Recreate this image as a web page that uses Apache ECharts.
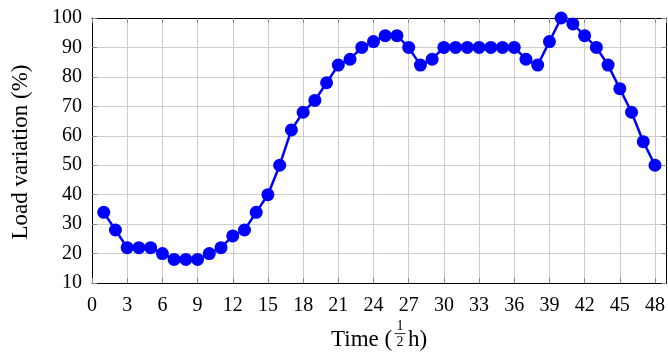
<!DOCTYPE html>
<html>
<head>
<meta charset="utf-8">
<script src="https://cdn.jsdelivr.net/npm/echarts@6/dist/echarts.min.js"></script>
<style>
  html, body { margin: 0; padding: 0; background: #fff; }
  #chart { width: 668px; height: 356px; }
</style>
</head>
<body>
<div id="chart"></div>
<script>
// half-hour slots 1..48
const slots = [];
for (let i = 1; i <= 48; i++) slots.push(i);

// load variation (%)
const loadValues = [
  34, 28, 22, 22, 22, 20, 18, 18, 18, 20, 22, 26,
  28, 34, 40, 50, 62, 68, 72, 78, 84, 86, 90, 92,
  94, 94, 90, 84, 86, 90, 90, 90, 90, 90, 90, 90,
  86, 84, 92, 100, 98, 94, 90, 84, 76, 68, 58, 50
];

const FONT = 'Liberation Serif';
const tickStyle = { show: true, inside: true, length: 5, lineStyle: { color: '#888', width: 1 } };
const borderLine = { show: true, onZero: false, lineStyle: { color: '#000', width: 1 } };

const chart = echarts.init(document.getElementById('chart'));

const option = {
  animation: false,
  grid: { left: 92, right: 0.5, top: 18, bottom: 73, containLabel: false },
  xAxis: [
    {
      type: 'value', min: 0, max: 49, interval: 3,
      axisLine: borderLine,
      axisTick: tickStyle,
      axisLabel: { showMaxLabel: false, margin: 13, fontFamily: FONT, fontSize: 20, color: '#000' },
      splitLine: { show: true, lineStyle: { color: '#cccccc', width: 1 } }
    },
    {
      type: 'value', position: 'top', min: 0, max: 49, interval: 3,
      axisLine: borderLine, axisTick: tickStyle,
      axisLabel: { show: false }, splitLine: { show: false }
    }
  ],
  yAxis: [
    {
      type: 'value', min: 10, max: 100, interval: 10,
      axisLine: borderLine,
      axisTick: tickStyle,
      axisLabel: { margin: 10, fontFamily: FONT, fontSize: 20, color: '#000' },
      splitLine: { show: true, lineStyle: { color: '#cccccc', width: 1 } }
    },
    {
      type: 'value', position: 'right', min: 10, max: 100, interval: 10,
      axisLine: borderLine, axisTick: tickStyle,
      axisLabel: { show: false }, splitLine: { show: false }
    }
  ],
  series: [{
    type: 'line',
    data: slots.map((s, i) => [s, loadValues[i]]),
    color: '#0000ff',
    lineStyle: { color: '#0000ff', width: 2.5 },
    symbol: 'circle',
    symbolSize: 13,
    itemStyle: { color: '#0000ff' },
    clip: false
  }],
  graphic: [
    {
      type: 'text', x: 21, y: 152, rotation: Math.PI / 2,
      style: { text: 'Load variation (%)', font: '23px "Liberation Serif"', fill: '#000', align: 'center', verticalAlign: 'middle' }
    },
    { type: 'text', x: 331, y: 351, style: { text: 'Time (', font: '23px "Liberation Serif"', fill: '#000', align: 'left', verticalAlign: 'bottom' } },
    { type: 'text', x: 400, y: 333, style: { text: '1', font: '14px "Liberation Serif"', fill: '#000', align: 'center', verticalAlign: 'bottom' } },
    { type: 'line', shape: { x1: 394.5, y1: 333.5, x2: 405.5, y2: 333.5 }, style: { stroke: '#000', lineWidth: 0.8 } },
    { type: 'text', x: 400, y: 349, style: { text: '2', font: '14px "Liberation Serif"', fill: '#000', align: 'center', verticalAlign: 'bottom' } },
    { type: 'text', x: 408, y: 351, style: { text: 'h)', font: '23px "Liberation Serif"', fill: '#000', align: 'left', verticalAlign: 'bottom' } }
  ]
};

chart.setOption(option);
</script>
</body>
</html>
